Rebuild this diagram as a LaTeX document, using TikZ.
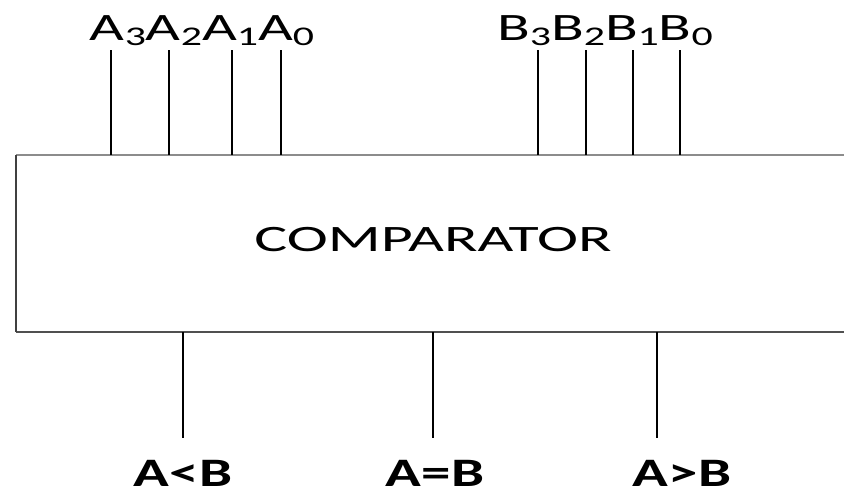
\documentclass[tikz,border=0pt]{standalone}
\usepackage{fontspec}
\setmainfont{Carlito}
\usetikzlibrary{positioning}
\definecolor{PinInk}{HTML}{000000}
\definecolor{BoxTop}{HTML}{8C8C8C}
\definecolor{BoxSide}{HTML}{404040}
\definecolor{BoxBottom}{HTML}{505050}
\newcommand{\pinsub}[1]{\raisebox{-5pt}{\fontsize{27}{27}\selectfont #1}}
\tikzset{
  every node/.style={inner sep=0pt, outer sep=0pt, text=PinInk},
  pin line/.style={draw=PinInk, line width=1.8pt},
  bus label/.style={font=\fontsize{38.8}{40}\selectfont, xscale=1.55, anchor=base},
  out label/.style={font=\fontsize{40.4}{42}\selectfont\bfseries, xscale=1.46, anchor=base},
  title/.style={font=\fontsize{37.3}{40}\selectfont, xscale=1.66, anchor=base},
}
\begin{document}
\begin{tikzpicture}[x=1pt,y=-1pt]
  \useasboundingbox (0,0) rectangle (844,491);
  % Box: open on the right, it runs off the page
  \coordinate (boxNW) at (16,155);
  \coordinate (boxSW) at (16,332);
  \coordinate (boxNE) at (844,155);
  \coordinate (boxSE) at (844,332);
  \draw[BoxTop, line width=2pt] (boxNW) -- (boxNE);
  \draw[BoxBottom, line width=2pt] (boxSW) -- (boxSE);
  \draw[BoxSide, line width=2pt] (boxNW) -- (boxSW);
  \node[title] (cmp) at (433,251) {COMPARATOR};
  % Input pins, A bus then B bus
  \foreach \x [count=\i] in {111,169,232,281}{
    \coordinate (a\i top) at (\x,50);
    \coordinate (a\i box) at (\x,155);
    \draw[pin line] (a\i top) -- (a\i box);
  }
  \foreach \x [count=\i] in {538,586,633,680}{
    \coordinate (b\i top) at (\x,50);
    \coordinate (b\i box) at (\x,155);
    \draw[pin line] (b\i top) -- (b\i box);
  }
  \node[bus label] (abus) at (202,40) {A\pinsub{3}A\pinsub{2}A\pinsub{1}A\pinsub{0}};
  \node[bus label] (bbus) at (605,40) {B\pinsub{3}B\pinsub{2}B\pinsub{1}B\pinsub{0}};
  % Output pins
  \foreach \x/\n in {183/lt,433/eq,657/gt}{
    \coordinate (\n box) at (\x,332);
    \coordinate (\n end) at (\x,438);
    \draw[pin line] (\n box) -- (\n end);
  }
  \node[out label] (ltlabel) at (183,486) {A<B};
  \node[out label] (eqlabel) at (435,486) {A=B};
  \node[out label] (gtlabel) at (682,486) {A>B};
\end{tikzpicture}
\end{document}
